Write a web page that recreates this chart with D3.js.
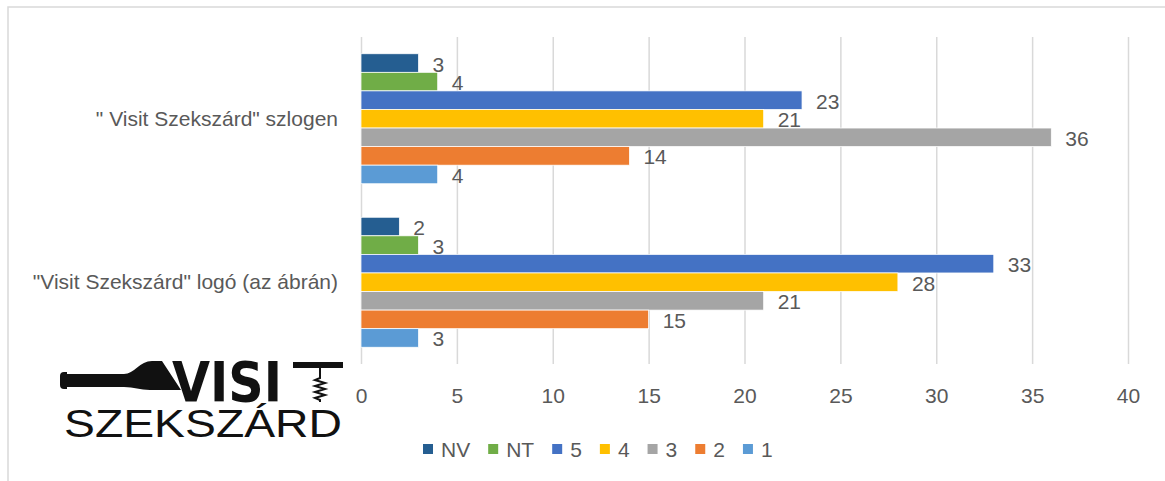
<!DOCTYPE html>
<html>
<head>
<meta charset="utf-8">
<script src="https://cdn.jsdelivr.net/npm/d3@7"></script>
<style>
    html, body { margin: 0; padding: 0; background: #ffffff; }
    svg { display: block; font-family: 'Liberation Sans', Arial, sans-serif; }
    .grid line { stroke: #d9d9d9; stroke-width: 1.5; }
    .grid text { fill: #595959; font-size: 21px; }
    .label { fill: #595959; font-size: 21px; }
    .category { fill: #595959; font-size: 21px; }
</style>
</head>
<body>
<svg id="chart" width="1165" height="481"></svg>
<script>
'use strict';

// Categories on the vertical axis
const categories = ['" Visit Szekszárd" szlogen', '"Visit Szekszárd" logó (az ábrán)'];

// Series (answer options), top to bottom inside each group
const seriesNames = ['NV', 'NT', '5', '4', '3', '2', '1'];
const seriesColors = ['#255e91', '#70ad47', '#4472c4', '#ffc000', '#a5a5a5', '#ed7d31', '#5b9bd5'];

// Values per series, one per category
const valuesNV = [3, 2];
const valuesNT = [4, 3];
const values5 = [23, 33];
const values4 = [21, 28];
const values3 = [36, 21];
const values2 = [14, 15];
const values1 = [4, 3];

// Tick labels of the value axis
const xTicks = [0, 5, 10, 15, 20, 25, 30, 35, 40];

const seriesValues = [valuesNV, valuesNT, values5, values4, values3, values2, values1];

const rows = [];
categories.forEach((category, ci) => {
    seriesNames.forEach((name, si) => {
        rows.push({ category: category, series: name, value: seriesValues[si][ci], color: seriesColors[si] });
    });
});

const svg = d3.select('#chart');

// Outer chart border
svg.append('rect')
    .attr('x', 8)
    .attr('y', 7)
    .attr('width', 1200)
    .attr('height', 500)
    .attr('fill', 'none')
    .attr('stroke', '#d9d9d9')
    .attr('stroke-width', 1.5);

const plotTop = 37;
const plotBottom = 364;

const x =
d3.scaleLinear()
  .domain([0, 40])
  .range([361, 1128]);

const y =
d3.scaleBand()
  .domain(categories)
  .range([plotTop, plotBottom])
  .paddingInner(0.205)
  .paddingOuter(0.1025);

const ySeries =
d3.scaleBand()
  .domain(seriesNames)
  .range([0, y.bandwidth()]);

// Gridlines and tick labels
const xAxis =
d3.axisBottom(x)
  .tickValues(xTicks)
  .tickSizeInner(-(plotBottom - plotTop))
  .tickSizeOuter(0)
  .tickPadding(24);

svg.append('g')
   .attr('class', 'grid')
   .attr('transform', `translate(0, ${plotBottom})`)
   .call(xAxis)
   .call(g => g.select('.domain').remove())
   .call(g => g.selectAll('text').attr('font-family', null).attr('font-size', null));

// Bars
svg.append('g')
   .selectAll('rect')
   .data(rows)
   .enter()
   .append('rect')
     .attr('x', x(0))
     .attr('y', d => y(d.category) + ySeries(d.series))
     .attr('width', d => x(d.value) - x(0))
     .attr('height', ySeries.bandwidth())
     .attr('fill', d => d.color)
     .attr('stroke', '#ffffff')
     .attr('stroke-width', 0.75);

// Data labels
svg.append('g')
   .selectAll('text')
   .data(rows)
   .enter()
   .append('text')
     .attr('class', 'label')
     .attr('x', d => x(d.value) + 14)
     .attr('y', d => y(d.category) + ySeries(d.series) + ySeries.bandwidth() / 2 + 8.5)
     .text(d => d.value);

// Category labels
svg.append('g')
   .selectAll('text')
   .data(categories)
   .enter()
   .append('text')
     .attr('class', 'category')
     .attr('text-anchor', 'end')
     .attr('x', 338)
     .attr('y', d => y(d) + y.bandwidth() / 2 + 7)
     .text(d => d);

// Legend
const legend = svg.append('g').attr('transform', 'translate(423, 444)');
let legendX = 0;
seriesNames.forEach((name, i) => {
    const item = legend.append('g').attr('transform', `translate(${legendX}, 0)`);
    item.append('rect')
        .attr('width', 10)
        .attr('height', 10)
        .attr('fill', seriesColors[i]);
    const label = item.append('text')
        .attr('class', 'label')
        .attr('x', 18)
        .attr('y', 13)
        .text(name);
    legendX += 18 + label.node().getComputedTextLength() + 18;
});

// "Visit Szekszárd" logo (bottle, VISIT with corkscrew T, SZEKSZÁRD)
const logo = svg.append('g').attr('fill', '#111111');

logo.append('path')
    .attr('d', 'M60,376 Q60,372 64,372 L67,372 L67,374 L124,374 ' +
               'C134,374 140,361 152,361 L162,361 L181,390 L150,390 ' +
               'C140,390 134,387 124,387 L67,387 L67,389 L64,389 Q60,389 60,385 Z');

logo.append('text')
    .attr('x', 172)
    .attr('y', 401)
    .attr('font-family', "'Liberation Sans Narrow', 'DejaVu Sans Condensed', sans-serif")
    .attr('font-weight', 'bold')
    .attr('font-size', 55)
    .attr('textLength', 110)
    .attr('lengthAdjust', 'spacingAndGlyphs')
    .text('VISI');

logo.append('rect')
    .attr('x', 293)
    .attr('y', 362)
    .attr('width', 50)
    .attr('height', 6);

logo.append('path')
    .attr('fill', 'none')
    .attr('stroke', '#111111')
    .attr('stroke-width', 2)
    .attr('d', 'M320,368 L320,378 L315,380 L325,383 L315,386 L325,389 L315,392 L325,395 L315,398 L320,400 L320,402');

logo.append('text')
    .attr('x', 64)
    .attr('y', 437)
    .attr('font-family', "'Liberation Sans', Arial, sans-serif")
    .attr('font-size', 39)
    .attr('textLength', 278)
    .attr('lengthAdjust', 'spacingAndGlyphs')
    .text('SZEKSZÁRD');
</script>
</body>
</html>
